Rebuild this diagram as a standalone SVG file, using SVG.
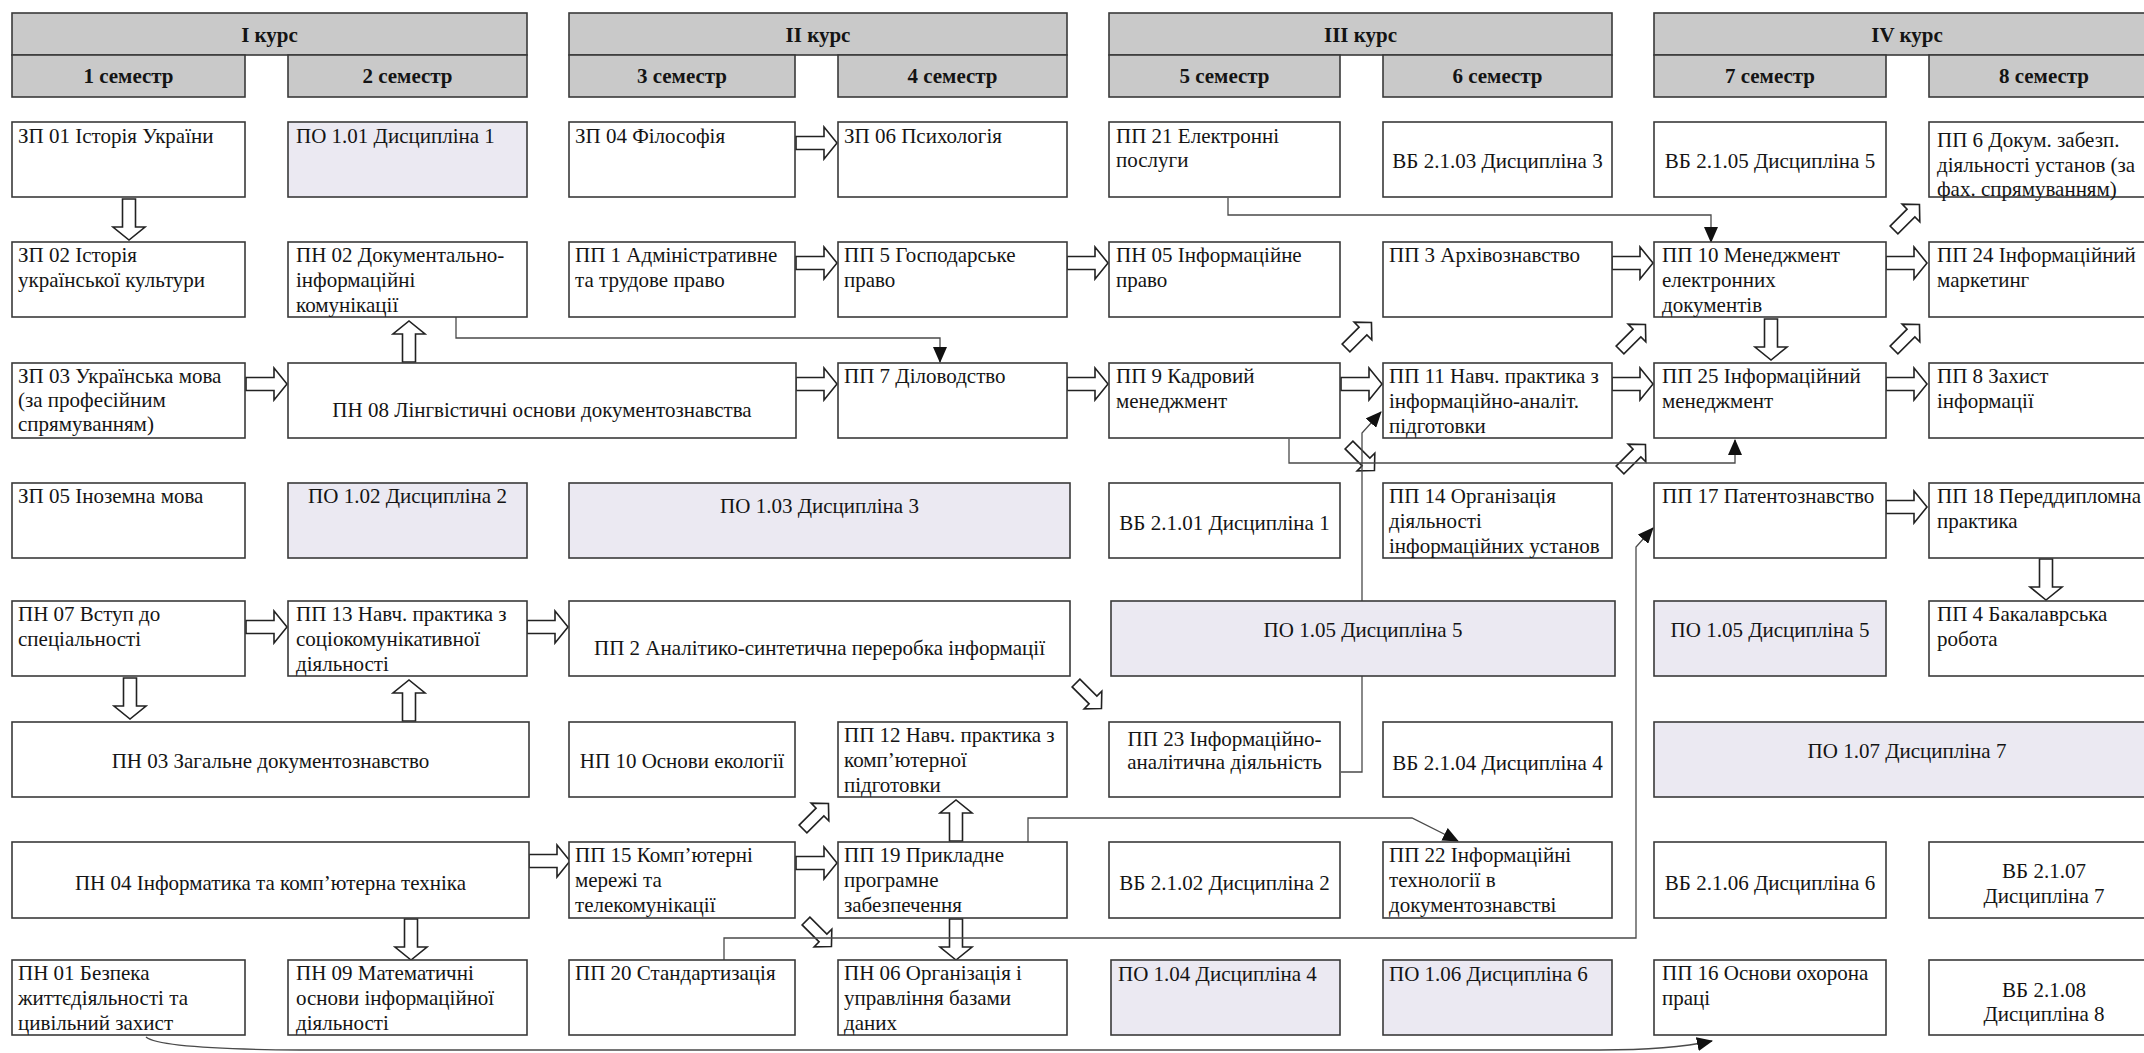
<svg xmlns="http://www.w3.org/2000/svg" width="2144" height="1053" viewBox="0 0 2144 1053">
<defs>
<style>
.bx{fill:#fff;stroke:#3a3a3a;stroke-width:1.6}
.po{fill:#ebe9f2;stroke:#3a3a3a;stroke-width:1.6}
.hd{fill:#c9c9c9;stroke:#3a3a3a;stroke-width:1.6}
text{font-family:"Liberation Serif","Times New Roman",serif;font-size:21px;fill:#141414}
.c{text-anchor:middle}
.h{font-weight:bold;text-anchor:middle}
.ln{fill:none;stroke:#4a4a4a;stroke-width:1.3}
</style>
<path id="ah" d="M0,-6.5H28V-16L41,0L28,16V6.5H0Z" fill="#fff" stroke="#222" stroke-width="1.6"/>
<path id="ad" d="M0,-5.5H24V-12.5L36,0L24,12.5V5.5H0Z" fill="#fff" stroke="#222" stroke-width="1.6"/>
<marker id="tri" viewBox="0 0 16 14" refX="15" refY="7" markerWidth="16" markerHeight="14" markerUnits="userSpaceOnUse" orient="auto"><path d="M0,0L16,7L0,14Z" fill="#111"/></marker>
</defs>
<rect width="2144" height="1053" fill="#fff"/>

<g id="connectors">
<use href="#ah" transform="translate(796,143)"/>
<use href="#ah" transform="translate(796,263)"/>
<use href="#ah" transform="translate(1067,263)"/>
<use href="#ah" transform="translate(1612,263)"/>
<use href="#ah" transform="translate(1886,263)"/>
<use href="#ah" transform="translate(246,384)"/>
<use href="#ah" transform="translate(796,384)"/>
<use href="#ah" transform="translate(1067,384)"/>
<use href="#ah" transform="translate(1341,384)"/>
<use href="#ah" transform="translate(1612,384)"/>
<use href="#ah" transform="translate(1886,384)"/>
<use href="#ah" transform="translate(1886,507)"/>
<use href="#ah" transform="translate(246,627)"/>
<use href="#ah" transform="translate(527,627)"/>
<use href="#ah" transform="translate(529,861)"/>
<use href="#ah" transform="translate(796,863)"/>
<use href="#ah" transform="translate(129,199) rotate(90)"/>
<use href="#ah" transform="translate(1771,319) rotate(90)"/>
<use href="#ah" transform="translate(2046,559) rotate(90)"/>
<use href="#ah" transform="translate(130,678) rotate(90)"/>
<use href="#ah" transform="translate(409,721) rotate(-90)"/>
<use href="#ah" transform="translate(409,362) rotate(-90)"/>
<use href="#ah" transform="translate(411,919) rotate(90)"/>
<use href="#ah" transform="translate(956,841) rotate(-90)"/>
<use href="#ah" transform="translate(956,919) rotate(90)"/>
<use href="#ad" transform="translate(1346,348) rotate(-45)"/>
<use href="#ad" transform="translate(1620,350) rotate(-45)"/>
<use href="#ad" transform="translate(1894,350) rotate(-45)"/>
<use href="#ad" transform="translate(1894,230) rotate(-45)"/>
<use href="#ad" transform="translate(1620,470) rotate(-45)"/>
<use href="#ad" transform="translate(803,829) rotate(-45)"/>
<use href="#ad" transform="translate(806,921) rotate(45)"/>
<use href="#ad" transform="translate(1076,683) rotate(45)"/>
<use href="#ad" transform="translate(1349,445) rotate(45)"/>
<path class="ln" d="M456,317V338H940V362" marker-end="url(#tri)"/>
<path class="ln" d="M1228,198V215H1711V242" marker-end="url(#tri)"/>
<path class="ln" d="M1289,439V463H1735V440" marker-end="url(#tri)"/>
<path class="ln" d="M1341,772H1362V433L1381,412" marker-end="url(#tri)"/>
<path class="ln" d="M1028,842V818H1412L1458,841" marker-end="url(#tri)"/>
<path class="ln" d="M724,960V938H1636V547L1653,528" marker-end="url(#tri)"/>
<path class="ln" d="M146,1037Q160,1049 300,1050L1600,1050Q1670,1050 1712,1041" marker-end="url(#tri)"/>
</g>

<g id="h_k1"><rect class="hd" x="12" y="13" width="515" height="42"/><text class="h" x="269.5" y="42">I курс</text></g>
<g id="h_s1"><rect class="hd" x="12" y="55" width="233" height="42"/><text class="h" x="128.5" y="83">1 семестр</text></g>
<g id="h_s2"><rect class="hd" x="288" y="55" width="239" height="42"/><text class="h" x="407.5" y="83">2 семестр</text></g>
<g id="h_k2"><rect class="hd" x="569" y="13" width="498" height="42"/><text class="h" x="818" y="42">II курс</text></g>
<g id="h_s3"><rect class="hd" x="569" y="55" width="226" height="42"/><text class="h" x="682" y="83">3 семестр</text></g>
<g id="h_s4"><rect class="hd" x="838" y="55" width="229" height="42"/><text class="h" x="952.5" y="83">4 семестр</text></g>
<g id="h_k3"><rect class="hd" x="1109" y="13" width="503" height="42"/><text class="h" x="1360.5" y="42">III курс</text></g>
<g id="h_s5"><rect class="hd" x="1109" y="55" width="231" height="42"/><text class="h" x="1224.5" y="83">5 семестр</text></g>
<g id="h_s6"><rect class="hd" x="1383" y="55" width="229" height="42"/><text class="h" x="1497.5" y="83">6 семестр</text></g>
<g id="h_k4"><rect class="hd" x="1654" y="13" width="506" height="42"/><text class="h" x="1907" y="42">IV курс</text></g>
<g id="h_s7"><rect class="hd" x="1654" y="55" width="232" height="42"/><text class="h" x="1770" y="83">7 семестр</text></g>
<g id="h_s8"><rect class="hd" x="1929" y="55" width="231" height="42"/><text class="h" x="2044" y="83">8 семестр</text></g>

<g id="zp01"><rect class="bx" x="12" y="122" width="233" height="75"/><text x="18" y="143">ЗП 01 Історія України</text></g>
<g id="po101"><rect class="po" x="288" y="122" width="239" height="75"/><text x="296" y="143">ПО 1.01 Дисципліна 1</text></g>
<g id="zp04"><rect class="bx" x="569" y="122" width="226" height="75"/><text x="575" y="143">ЗП 04 Філософія</text></g>
<g id="zp06"><rect class="bx" x="838" y="122" width="229" height="75"/><text x="844" y="143">ЗП 06 Психологія</text></g>
<g id="pp21"><rect class="bx" x="1109" y="122" width="231" height="75"/><text x="1116" y="143">ПП 21 Електронні</text><text x="1116" y="167">послуги</text></g>
<g id="vb203"><rect class="bx" x="1383" y="122" width="229" height="75"/><text class="c" x="1497.5" y="168">ВБ 2.1.03 Дисципліна 3</text></g>
<g id="vb205"><rect class="bx" x="1654" y="122" width="232" height="75"/><text class="c" x="1770" y="168">ВБ 2.1.05 Дисципліна 5</text></g>
<g id="pp6"><rect class="bx" x="1929" y="122" width="231" height="75"/><text x="1937" y="147">ПП 6 Докум. забезп.</text><text x="1937" y="172">діяльності установ (за</text><text x="1937" y="196">фах. спрямуванням)</text></g>

<g id="zp02"><rect class="bx" x="12" y="242" width="233" height="75"/><text x="18" y="262">ЗП 02 Історія</text><text x="18" y="287">української культури</text></g>
<g id="pn02"><rect class="bx" x="288" y="242" width="239" height="75"/><text x="296" y="262">ПН 02 Документально-</text><text x="296" y="287">інформаційні</text><text x="296" y="312">комунікації</text></g>
<g id="pp1"><rect class="bx" x="569" y="242" width="226" height="75"/><text x="575" y="262">ПП 1 Адміністративне</text><text x="575" y="287">та трудове право</text></g>
<g id="pp5"><rect class="bx" x="838" y="242" width="229" height="75"/><text x="844" y="262">ПП 5 Господарське</text><text x="844" y="287">право</text></g>
<g id="pn05"><rect class="bx" x="1109" y="242" width="231" height="75"/><text x="1116" y="262">ПН 05 Інформаційне</text><text x="1116" y="287">право</text></g>
<g id="pp3"><rect class="bx" x="1383" y="242" width="229" height="75"/><text x="1389" y="262">ПП 3 Архівознавство</text></g>
<g id="pp10"><rect class="bx" x="1654" y="242" width="232" height="75"/><text x="1662" y="262">ПП 10 Менеджмент</text><text x="1662" y="287">електронних</text><text x="1662" y="312">документів</text></g>
<g id="pp24"><rect class="bx" x="1929" y="242" width="231" height="75"/><text x="1937" y="262">ПП 24 Інформаційний</text><text x="1937" y="287">маркетинг</text></g>

<g id="zp03"><rect class="bx" x="12" y="363" width="233" height="75"/><text x="18" y="383">ЗП 03 Українська мова</text><text x="18" y="407">(за професійним</text><text x="18" y="431">спрямуванням)</text></g>
<g id="pn08"><rect class="bx" x="288" y="363" width="508" height="75"/><text class="c" x="542" y="417">ПН 08 Лінгвістичні основи документознавства</text></g>
<g id="pp7"><rect class="bx" x="838" y="363" width="229" height="75"/><text x="844" y="383">ПП 7 Діловодство</text></g>
<g id="pp9"><rect class="bx" x="1109" y="363" width="231" height="75"/><text x="1116" y="383">ПП 9 Кадровий</text><text x="1116" y="408">менеджмент</text></g>
<g id="pp11"><rect class="bx" x="1383" y="363" width="229" height="75"/><text x="1389" y="383">ПП 11 Навч. практика з</text><text x="1389" y="408">інформаційно-аналіт.</text><text x="1389" y="433">підготовки</text></g>
<g id="pp25"><rect class="bx" x="1654" y="363" width="232" height="75"/><text x="1662" y="383">ПП 25 Інформаційний</text><text x="1662" y="408">менеджмент</text></g>
<g id="pp8"><rect class="bx" x="1929" y="363" width="231" height="75"/><text x="1937" y="383">ПП 8 Захист</text><text x="1937" y="408">інформації</text></g>

<g id="zp05"><rect class="bx" x="12" y="483" width="233" height="75"/><text x="18" y="503">ЗП 05 Іноземна мова</text></g>
<g id="po102"><rect class="po" x="288" y="483" width="239" height="75"/><text class="c" x="407.5" y="503">ПО 1.02 Дисципліна 2</text></g>
<g id="po103"><rect class="po" x="569" y="483" width="501" height="75"/><text class="c" x="819.5" y="513">ПО 1.03 Дисципліна 3</text></g>
<g id="vb201"><rect class="bx" x="1109" y="483" width="231" height="75"/><text class="c" x="1224.5" y="530">ВБ 2.1.01 Дисципліна 1</text></g>
<g id="pp14"><rect class="bx" x="1383" y="483" width="229" height="75"/><text x="1389" y="503">ПП 14 Організація</text><text x="1389" y="528">діяльності</text><text x="1389" y="553">інформаційних установ</text></g>
<g id="pp17"><rect class="bx" x="1654" y="483" width="232" height="75"/><text x="1662" y="503">ПП 17 Патентознавство</text></g>
<g id="pp18"><rect class="bx" x="1929" y="483" width="231" height="75"/><text x="1937" y="503">ПП 18 Переддипломна</text><text x="1937" y="528">практика</text></g>

<g id="pn07"><rect class="bx" x="12" y="601" width="233" height="75"/><text x="18" y="621">ПН 07 Вступ до</text><text x="18" y="646">спеціальності</text></g>
<g id="pp13"><rect class="bx" x="288" y="601" width="239" height="75"/><text x="296" y="621">ПП 13 Навч. практика з</text><text x="296" y="646">соціокомунікативної</text><text x="296" y="671">діяльності</text></g>
<g id="pp2"><rect class="bx" x="569" y="601" width="501" height="75"/><text class="c" x="819.5" y="655">ПП 2 Аналітико-синтетична переробка інформації</text></g>
<g id="po105a"><rect class="po" x="1111" y="601" width="504" height="75"/><text class="c" x="1363" y="637">ПО 1.05 Дисципліна 5</text></g>
<g id="po105b"><rect class="po" x="1654" y="601" width="232" height="75"/><text class="c" x="1770" y="637">ПО 1.05 Дисципліна 5</text></g>
<g id="pp4"><rect class="bx" x="1929" y="601" width="231" height="75"/><text x="1937" y="621">ПП 4 Бакалаврська</text><text x="1937" y="646">робота</text></g>

<g id="pn03"><rect class="bx" x="12" y="722" width="517" height="75"/><text class="c" x="270.5" y="768">ПН 03 Загальне документознавство</text></g>
<g id="np10"><rect class="bx" x="569" y="722" width="226" height="75"/><text class="c" x="682" y="768">НП 10 Основи екології</text></g>
<g id="pp12"><rect class="bx" x="838" y="722" width="229" height="75"/><text x="844" y="742">ПП 12 Навч. практика з</text><text x="844" y="767">комп’ютерної</text><text x="844" y="792">підготовки</text></g>
<g id="pp23"><rect class="bx" x="1109" y="722" width="231" height="75"/><text class="c" x="1224.5" y="746">ПП 23 Інформаційно-</text><text class="c" x="1224.5" y="769">аналітична діяльність</text></g>
<g id="vb204"><rect class="bx" x="1383" y="722" width="229" height="75"/><text class="c" x="1497.5" y="770">ВБ 2.1.04 Дисципліна 4</text></g>
<g id="po107"><rect class="po" x="1654" y="722" width="506" height="75"/><text class="c" x="1907" y="758">ПО 1.07 Дисципліна 7</text></g>

<g id="pn04"><rect class="bx" x="12" y="842" width="517" height="76"/><text class="c" x="270.5" y="890">ПН 04 Інформатика та комп’ютерна техніка</text></g>
<g id="pp15"><rect class="bx" x="569" y="842" width="226" height="76"/><text x="575" y="862">ПП 15 Комп’ютерні</text><text x="575" y="887">мережі та</text><text x="575" y="912">телекомунікації</text></g>
<g id="pp19"><rect class="bx" x="838" y="842" width="229" height="76"/><text x="844" y="862">ПП 19 Прикладне</text><text x="844" y="887">програмне</text><text x="844" y="912">забезпечення</text></g>
<g id="vb202"><rect class="bx" x="1109" y="842" width="231" height="76"/><text class="c" x="1224.5" y="890">ВБ 2.1.02 Дисципліна 2</text></g>
<g id="pp22"><rect class="bx" x="1383" y="842" width="229" height="76"/><text x="1389" y="862">ПП 22 Інформаційні</text><text x="1389" y="887">технології в</text><text x="1389" y="912">документознавстві</text></g>
<g id="vb206"><rect class="bx" x="1654" y="842" width="232" height="76"/><text class="c" x="1770" y="890">ВБ 2.1.06 Дисципліна 6</text></g>
<g id="vb207"><rect class="bx" x="1929" y="842" width="231" height="76"/><text class="c" x="2044" y="878">ВБ 2.1.07</text><text class="c" x="2044" y="903">Дисципліна 7</text></g>

<g id="pn01"><rect class="bx" x="12" y="960" width="233" height="75"/><text x="18" y="980">ПН 01 Безпека</text><text x="18" y="1005">життєдіяльності та</text><text x="18" y="1030">цивільний захист</text></g>
<g id="pn09"><rect class="bx" x="288" y="960" width="239" height="75"/><text x="296" y="980">ПН 09 Математичні</text><text x="296" y="1005">основи інформаційної</text><text x="296" y="1030">діяльності</text></g>
<g id="pp20"><rect class="bx" x="569" y="960" width="226" height="75"/><text x="575" y="980">ПП 20 Стандартизація</text></g>
<g id="pn06"><rect class="bx" x="838" y="960" width="229" height="75"/><text x="844" y="980">ПН 06 Організація і</text><text x="844" y="1005">управління базами</text><text x="844" y="1030">даних</text></g>
<g id="po104"><rect class="po" x="1111" y="960" width="229" height="75"/><text x="1118" y="981">ПО 1.04 Дисципліна 4</text></g>
<g id="po106"><rect class="po" x="1383" y="960" width="229" height="75"/><text x="1389" y="981">ПО 1.06 Дисципліна 6</text></g>
<g id="pp16"><rect class="bx" x="1654" y="960" width="232" height="75"/><text x="1662" y="980">ПП 16 Основи охорона</text><text x="1662" y="1005">праці</text></g>
<g id="vb208"><rect class="bx" x="1929" y="960" width="231" height="75"/><text class="c" x="2044" y="997">ВБ 2.1.08</text><text class="c" x="2044" y="1021">Дисципліна 8</text></g>
</svg>
